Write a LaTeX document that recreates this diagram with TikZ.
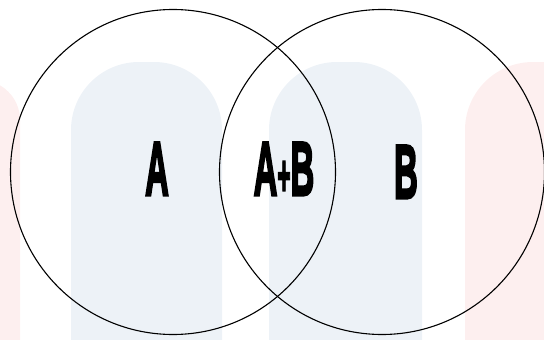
\documentclass[tikz,border=0pt]{standalone}
\usepackage{fontspec}
\setmainfont{Liberation Sans}
\newfontfamily\heavyfont{Liberation Sans Bold}[FakeBold=4]
\usetikzlibrary{positioning}

\definecolor{markblue}{HTML}{EDF2F7}
\definecolor{markpink}{HTML}{FDEFEF}
\newcommand{\narrow}[1]{\scalebox{0.43}[1]{#1}}

\begin{document}
\begin{tikzpicture}[x=1pt, y=-1pt, set/.style={draw, circle, line width=1.1pt, minimum size=325pt, inner sep=0pt}, tag/.style={font=\fontsize{76}{76}\heavyfont, inner sep=0pt, anchor=base}, pill/.style={rounded corners=68pt}]
        \useasboundingbox (0,0) rectangle (544,340);
        % faint background shapes
        \fill[markblue, pill] (71,420) -- (71,62) -- (222,62) -- (222,420) -- cycle;
        \fill[markblue, pill] (269,420) -- (269,62) -- (422,62) -- (422,420) -- cycle;
        \fill[markpink, rounded corners=40pt] (-60,420) -- (-60,80) -- (20,80) -- (20,420) -- cycle;
        \fill[markpink, pill] (465,420) -- (465,62) -- (620,62) -- (620,420) -- cycle;
        % sets
        \node[set] (setA) at (173,172) {};
        \node[set] (setB) at (382,172) {};
        \node[tag] (labA) at (157,195) {\narrow{A}};
        \node[tag] (labAB) at (284,195) {\narrow{A}\scalebox{0.3}[0.75]{+}\narrow{B}};
        \node[tag] (labB) at (406,198) {\narrow{B}};
    \end{tikzpicture}
\end{document}
